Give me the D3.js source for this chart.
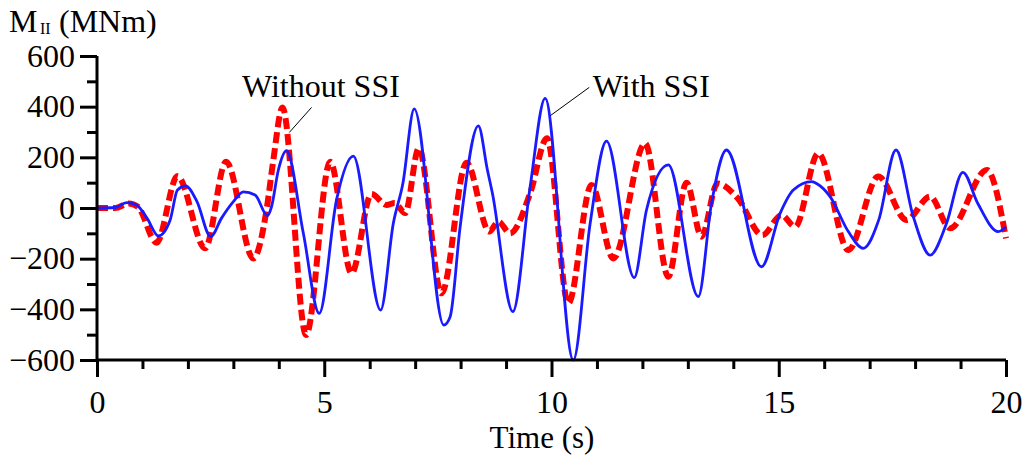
<!DOCTYPE html>
<html>
<head>
<meta charset="utf-8">
<script src="https://cdn.jsdelivr.net/npm/d3@7"></script>
<style>
  html, body { margin: 0; padding: 0; background: #fff; }
  svg { display: block; }
  text { font-family: "Liberation Serif", "Times New Roman", serif; fill: #000; }
</style>
</head>
<body>
<svg id="chart" width="1024" height="455"></svg>
<script>
// Bending moment M_II time histories (MNm) with and without soil-structure interaction
const timeWith = [0, 0.4, 0.65, 0.87, 1.1, 1.35, 1.61, 1.77, 1.95, 2.2, 2.5, 2.74, 3.0, 3.22, 3.48, 3.75, 3.84, 3.99, 4.17,
  4.54, 4.89, 5.27, 5.64, 6.24, 6.52, 6.73, 6.98, 7.63, 7.77, 7.99, 8.39, 8.59, 8.7, 9.15, 9.53, 9.86, 10.48, 10.85,
  11.21, 11.82, 12.09, 12.57, 13.23, 13.52, 13.85, 14.62, 15.03, 15.32, 15.72, 15.85, 16.13, 16.53, 16.86, 17.2, 17.58,
  17.96, 18.33, 18.69, 19.05, 19.38, 19.83, 20];
const withSSI = [0, 2, 21, 12, -40, -110, -47, 71, 87, 25, -113, -40, 25, 64, 51, -30, 5, 150, 226,
  -100, -416, 32, 205, -403, -60, 97, 391, -462, -429, -74, 324, 150, 58, -409, 84, 433, -600, -61,
  264, -275, -8, 170, -350, 18, 229, -232, -21, 71, 104, 95, 45, -93, -159, -47, 229,
  -34, -186, -61, 141, 18, -93, -75];

const timeWithout = [0, 0.4, 0.7, 0.9, 1.31, 1.77, 2.38, 2.84, 3.44, 3.73, 3.88, 4.08, 4.6, 5.13, 5.6, 6.04, 6.37, 6.55,
  6.78, 7.08, 7.58, 8.13, 8.63, 8.83, 9.09, 9.53, 9.9, 10.37, 10.88, 11.36, 12.06, 12.57, 12.97, 13.3, 13.65, 14.1,
  14.64, 15.06, 15.36, 15.87, 16.53, 17.19, 17.81, 18.33, 18.77, 19.58, 20];
const withoutSSI = [0, 0, 18, 5, -137, 126, -159, 183, -199, -8, 190, 397, -501, 183, -258, 55, 12, 20,
  -20, 236, -337, 179, -93, -54, -100, 58, 275, -376, 91, -199, 255, -271, 100, -113, 97, 38,
  -107, -28, -74, 216, -166, 124, -47, 45, -80, 150, -120];

const xTicks = [0, 5, 10, 15, 20];
const yTicks = [-600, -400, -200, 0, 200, 400, 600];

const svg = d3.select("#chart");
const x = d3.scaleLinear().domain([0, 20]).range([97, 1006]);
const y = d3.scaleLinear().domain([-600, 600]).range([360, 56]);

// Curves
const line = d3.line().x(d => x(d[0])).y(d => y(d[1])).curve(d3.curveMonotoneX);

svg.append("path")
  .datum(d3.zip(timeWithout, withoutSSI))
  .attr("d", line)
  .attr("fill", "none")
  .attr("stroke", "#ff0000")
  .attr("stroke-width", 6)
  .attr("stroke-dasharray", "11,5");

svg.append("path")
  .datum(d3.zip(timeWith, withSSI))
  .attr("d", line)
  .attr("fill", "none")
  .attr("stroke", "#1a1aff")
  .attr("stroke-width", 2.8);

// Axes
const fontSize = 32;
function styleAxis(g) {
  g.selectAll(".domain").remove();
  g.selectAll(".tick line").attr("stroke", "#000").attr("stroke-width", 3);
  g.selectAll("text").style("font-size", fontSize + "px").style("font-family", '"Liberation Serif", serif').attr("fill", "#000");
}

svg.append("g")
  .attr("transform", `translate(${x(0)},0)`)
  .call(d3.axisLeft(y).tickValues(d3.range(-500, 600, 200)).tickSize(10).tickFormat(""))
  .call(styleAxis);
svg.append("g")
  .attr("transform", `translate(${x(0)},0)`)
  .call(d3.axisLeft(y).tickValues(yTicks).tickSize(17).tickPadding(5).tickFormat(d3.format("d")))
  .call(styleAxis);

svg.append("g")
  .attr("transform", `translate(0,${y(-600)})`)
  .call(d3.axisBottom(x).tickValues(d3.range(1, 20).filter(d => d % 5 !== 0)).tickSize(9).tickFormat(""))
  .call(styleAxis);
svg.append("g")
  .attr("transform", `translate(0,${y(-600)})`)
  .call(d3.axisBottom(x).tickValues(xTicks).tickSize(17).tickPadding(13.5).tickFormat(d3.format("d")))
  .call(styleAxis);

// Axis lines
svg.append("line").attr("x1", x(0)).attr("x2", x(0)).attr("y1", y(600)).attr("y2", y(-600))
  .attr("stroke", "#000").attr("stroke-width", 3);
svg.append("line").attr("x1", x(0)).attr("x2", x(20)).attr("y1", y(-600)).attr("y2", y(-600))
  .attr("stroke", "#000").attr("stroke-width", 3);

// Axis titles
svg.append("text")
  .attr("x", 542)
  .attr("y", 448)
  .attr("text-anchor", "middle")
  .style("font-size", "31px")
  .text("Time (s)");

svg.append("text").attr("x", 9).attr("y", 32).style("font-size", "32px").text("M");
svg.append("text").attr("x", 40).attr("y", 33.5).style("font-size", "16px").text("II");
svg.append("text").attr("x", 59).attr("y", 32).style("font-size", "32px").text("(MNm)");

// Series annotations
svg.append("line")
  .attr("x1", x(4.72)).attr("y1", y(397)).attr("x2", x(4.23)).attr("y2", y(298))
  .attr("stroke", "#000").attr("stroke-width", 1);
svg.append("text").attr("x", x(3.19)).attr("y", 97).style("font-size", fontSize + "px").text("Without SSI");

svg.append("line")
  .attr("x1", x(10.83)).attr("y1", y(476)).attr("x2", x(9.97)).attr("y2", y(364))
  .attr("stroke", "#000").attr("stroke-width", 1);
svg.append("text").attr("x", x(10.91)).attr("y", 97).style("font-size", fontSize + "px").text("With SSI");
</script>
</body>
</html>
